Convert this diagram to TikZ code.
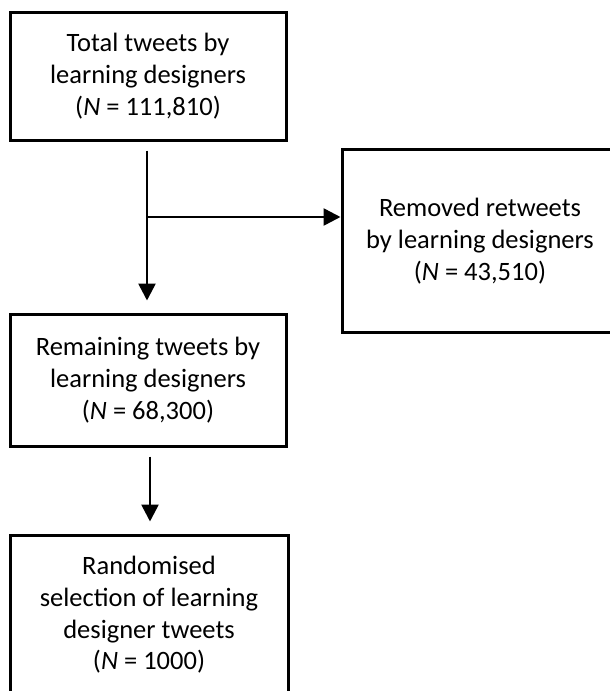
\documentclass[tikz,border=0pt]{standalone}
\usepackage{fontspec}
\setmainfont{Carlito}
\usetikzlibrary{arrows.meta}
\begin{document}
\begin{tikzpicture}[x=1pt,y=-1pt,
  box/.style={draw, line width=3pt, align=center, inner sep=0pt,
    font=\fontsize{26.5}{31.7}\selectfont, text=black},
  arr/.style={line width=2.6pt, -{Triangle[length=17pt,width=17pt]}}]
\useasboundingbox (0,0) rectangle (610,691);
\node[box, minimum width=276pt, minimum height=128pt] (b1) at (148,76)
  {Total tweets by\\learning designers\\(\textit{N} = 111,810)};
\node[box, minimum width=276pt, minimum height=183pt] (b2) at (480,241)
  {Removed retweets\\by learning designers\\(\textit{N} = 43,510)};
\node[box, minimum width=276pt, minimum height=132pt] (b3) at (148,380)
  {Remaining tweets by\\learning designers\\(\textit{N} = 68,300)};
\node[box, minimum width=278pt, minimum height=160pt] (b4) at (149,615)
  {Randomised\\selection of learning\\designer tweets\\(\textit{N} = 1000)};
\coordinate (j) at (147,217);
\draw[arr, shorten <=9pt, shorten >=12pt] ([xshift=-1pt]b1.south) -- ([xshift=-1pt]b3.north);
\draw[arr] (j) -- (b2.west |- j);
\draw[arr, shorten <=9pt, shorten >=12pt] ([xshift=2pt]b3.south) -- ([xshift=1pt]b4.north);
\end{tikzpicture}
\end{document}
